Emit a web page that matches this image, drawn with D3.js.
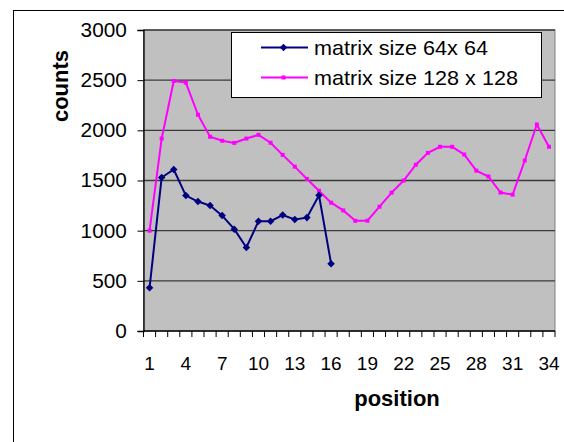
<!DOCTYPE html>
<html>
<head>
<meta charset="utf-8">
<script src="https://cdn.jsdelivr.net/npm/d3@7"></script>
<style>
  html, body { margin: 0; padding: 0; background: #ffffff; }
  svg { display: block; }
  text { font-family: "Liberation Sans", Arial, sans-serif; fill: #000; }
</style>
</head>
<body>
<svg id="chart" width="564" height="442"></svg>
<script>
// ---- data ----
const positions = d3.range(1, 35);
const seriesNames = ["matrix size 64x 64", "matrix size 128 x 128"];
const counts64 = [430, 1530, 1610, 1350, 1290, 1250, 1150, 1015, 832, 1095, 1095, 1155, 1112, 1130, 1353, 671];
const counts128 = [1000, 1918, 2492, 2476, 2156, 1936, 1896, 1875, 1918, 1955, 1876, 1755, 1638, 1516, 1398, 1279,
                   1202, 1098, 1099, 1239, 1379, 1500, 1657, 1775, 1836, 1836, 1759, 1598, 1540, 1380, 1359, 1699, 2058, 1836];
const yTicks = [0, 500, 1000, 1500, 2000, 2500, 3000];
const xTickLabels = [1, 4, 7, 10, 13, 16, 19, 22, 25, 28, 31, 34];
const xTitle = "position";
const yTitle = "counts";
const colors = ["#000080", "#FF00FF"];

// ---- layout ----
const svg = d3.select("#chart");
const plot = { left: 143.5, right: 555, top: 30, bottom: 331 };

// outer frame
svg.append("rect").attr("x", 13.5).attr("y", 10.5).attr("width", 600).attr("height", 500)
  .attr("fill", "#fff").attr("stroke", "#000").attr("stroke-width", 1);

const x = d3.scaleBand().domain(positions).range([plot.left, plot.right]).padding(0);
const y = d3.scaleLinear().domain([0, 3000]).range([plot.bottom, plot.top]);

// plot area
svg.append("rect").attr("x", plot.left).attr("y", plot.top)
  .attr("width", plot.right - plot.left).attr("height", plot.bottom - plot.top)
  .attr("fill", "#C0C0C0").attr("stroke", "#808080").attr("stroke-width", 1);

// gridlines
svg.append("g").selectAll("line").data(yTicks.filter(d => d > 0)).join("line")
  .attr("x1", plot.left).attr("x2", plot.right)
  .attr("y1", d => y(d)).attr("y2", d => y(d))
  .attr("stroke", "#3a3a3a").attr("stroke-width", 1.3);

// y axis
const yAxis = svg.append("g").attr("transform", `translate(${plot.left},0)`)
  .call(d3.axisLeft(y).tickValues(yTicks).tickSize(6).tickPadding(10).tickFormat(d3.format("d")));
yAxis.select(".domain").attr("stroke", "#000").attr("stroke-width", 1.3);
yAxis.selectAll(".tick line").attr("stroke", "#000");
yAxis.selectAll(".tick text").attr("font-size", 20).attr("fill", "#000")
  .style("font-family", '"Liberation Sans", Arial, sans-serif')
  .attr("transform", "scale(1.04,1)");

// x axis: ticks at band boundaries
const boundaries = d3.range(0, positions.length + 1).map(i => plot.left + i * x.bandwidth());
const xg = svg.append("g");
xg.append("line").attr("x1", plot.left).attr("x2", plot.right).attr("y1", plot.bottom).attr("y2", plot.bottom)
  .attr("stroke", "#000").attr("stroke-width", 1.3);
xg.selectAll("line.tk").data(boundaries).join("line").attr("class", "tk")
  .attr("x1", d => d).attr("x2", d => d).attr("y1", plot.bottom).attr("y2", plot.bottom + 6)
  .attr("stroke", "#000");
xg.selectAll("text").data(xTickLabels).join("text")
  .attr("x", d => x(d) + x.bandwidth() / 2).attr("y", 370)
  .attr("text-anchor", "middle").attr("font-size", 19)
  .text(d => d);

// axis titles
svg.append("text").attr("x", 397).attr("y", 406).attr("text-anchor", "middle")
  .attr("font-size", 22).attr("font-weight", "bold").text(xTitle);
svg.append("text").attr("transform", "translate(67.5,86) rotate(-90)").attr("text-anchor", "middle")
  .attr("font-size", 22).attr("font-weight", "bold").text(yTitle);

// lines
const cx = d => x(d) + x.bandwidth() / 2;
const line = d3.line().x(d => cx(d.p)).y(d => y(d.v));
const data64 = counts64.map((v, i) => ({ p: positions[i], v }));
const data128 = counts128.map((v, i) => ({ p: positions[i], v }));

svg.append("path").datum(data128).attr("d", line).attr("fill", "none")
  .attr("stroke", colors[1]).attr("stroke-width", 2);
svg.append("g").selectAll("rect").data(data128).join("rect")
  .attr("x", d => cx(d.p) - 2).attr("y", d => y(d.v) - 2).attr("width", 4).attr("height", 4)
  .attr("fill", colors[1]);

svg.append("path").datum(data64).attr("d", line).attr("fill", "none")
  .attr("stroke", colors[0]).attr("stroke-width", 2);
const diamond = d3.symbol().type(d3.symbolDiamond2).size(36);
svg.append("g").selectAll("path").data(data64).join("path")
  .attr("transform", d => `translate(${cx(d.p)},${y(d.v)})`)
  .attr("d", diamond).attr("fill", colors[0]);

// legend
const leg = svg.append("g");
leg.append("rect").attr("x", 231.5).attr("y", 32.5).attr("width", 310).attr("height", 65)
  .attr("fill", "#fff").attr("stroke", "#000").attr("stroke-width", 1);
const rowsY = [47.5, 77.5];
seriesNames.forEach((name, i) => {
  leg.append("line").attr("x1", 261).attr("x2", 308).attr("y1", rowsY[i]).attr("y2", rowsY[i])
    .attr("stroke", colors[i]).attr("stroke-width", 2);
  if (i === 0) {
    leg.append("path").attr("transform", `translate(283.5,${rowsY[i]})`).attr("d", diamond).attr("fill", colors[i]);
  } else {
    leg.append("rect").attr("x", 281.5).attr("y", rowsY[i] - 2).attr("width", 4).attr("height", 4).attr("fill", colors[i]);
  }
  leg.append("text").attr("transform", `translate(314,${rowsY[i] + 7}) scale(1.08,1)`)
    .attr("font-size", 20).text(name);
});
</script>
</body>
</html>
